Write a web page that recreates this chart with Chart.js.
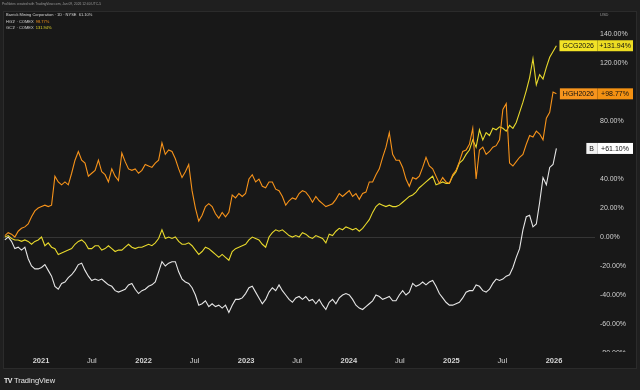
<!DOCTYPE html>
<html><head><meta charset="utf-8">
<script src="https://cdn.jsdelivr.net/npm/chart.js@4"></script>
<style>
html,body{margin:0;padding:0;background:#1f1f1f;width:640px;height:390px;overflow:hidden;font-family:"Liberation Sans",Arial,sans-serif;}
#wrap{position:relative;width:640px;height:390px;}
#pane{position:absolute;left:3px;top:11px;width:634px;height:358px;box-sizing:border-box;background:#181818;border:1px solid #2b2b2b;}
#c{position:absolute;left:0;top:0;}
.t{position:absolute;white-space:nowrap;line-height:1;}
</style></head>
<body><div id="wrap">
<div id="pane"></div>
<canvas id="c" width="640" height="390"></canvas>
<div class="t" style="left:2px;top:2.5px;font-size:3.3px;color:#9a9a9a;">ProNotes created with TradingView.com, Jan 09, 2026 12:40 UTC-5</div>
<div class="t" style="left:6px;top:13px;font-size:4px;color:#d6d6d6;">Barrick Mining Corporation · 1D · NYSE&nbsp;&nbsp;<span>61.10%</span></div>
<div class="t" style="left:6px;top:19.5px;font-size:4px;color:#d6d6d6;">HG1! · COMEX&nbsp;&nbsp;<span style="color:#f7931a">98.77%</span></div>
<div class="t" style="left:6px;top:25.5px;font-size:4px;color:#d6d6d6;">GC1! · COMEX&nbsp;&nbsp;<span style="color:#e8d92c">131.94%</span></div>
<div class="t" style="left:600px;top:12.5px;font-size:4px;color:#9a9a9a;">USD</div>
<div class="t" style="left:4px;top:377px;font-size:7.5px;color:#e6e6e6;"><b style="font-size:7px;letter-spacing:-0.5px">TV</b> TradingView</div>
</div>
<script>
// ---- data (percent change since start) ----
const startDate = Date.UTC(2020, 7, 25);
const stepDays = 11.9;
const barrick = [-2,0,-3,-8,-7,-9,-7,-15,-20,-22,
 -22,-21,-19,-23,-27,-34,-36,-32,-31,-28,
 -26,-23,-19,-18,-23,-27,-30,-29,-30,-29,
 -31,-33,-34,-37,-38,-37,-36,-33,-32,-36,
 -39,-37,-36,-34,-33,-31,-24,-17,-20,-18,
 -17,-17,-24,-29,-31,-32,-35,-40,-47,-46,
 -44,-48,-46,-48,-47,-49,-47,-52,-47,-43,
 -43,-42,-39,-35,-34,-38,-42,-46,-43,-38,
 -35,-37,-33,-37,-40,-43,-45,-42,-41,-43,
 -41,-44,-43,-46,-43,-47,-50,-45,-43,-46,
 -42,-40,-39,-40,-43,-47,-49,-50,-48,-46,
 -44,-40,-41,-43,-42,-41,-44,-44,-40,-37,
 -40,-38,-32,-34,-33,-31,-33,-31,-30,-34,
 -39,-42,-45,-47,-47,-46,-45,-42,-38,-37,
 -37,-33,-34,-37,-38,-36,-32,-29,-30,-29,
 -27,-26,-21,-14,-8,5,14,15,7,9,
 24,41,36,48,50,61.1];
const copper = [1,3,2,0,4,6,7,9,14,18,
 20,21,22,21,22,42,38,36,38,36,
 44,53,59,53,51,42,44,46,53,45,
 43,38,47,42,39,58,52,47,46,47,
 44,46,50,49,48,51,53,65,57,60,
 59,54,47,41,45,50,32,20,11,15,
 21,23,21,16,13,17,14,17,29,27,
 30,28,30,40,43,38,40,35,34,38,
 38,33,32,28,22,25,27,26,30,32,
 31,28,24,28,25,23,21,22,23,26,
 30,28,30,32,28,30,26,30,31,38,
 38,43,47,55,62,72,57,53,53,48,
 40,35,41,40,42,48,55,49,47,42,
 37,41,38,37,43,46,52,59,60,64,
 75,40,60,62,57,59,62,63,67,88,
 92,51,49,52,55,57,64,70,69,73,
 71,67,82,86,100,98.77];
const gold = [0,1,-1,-2,-2,-3,-2,-3,-5,-3,
 -2,0,-6,-4,-7,-8,-12,-11,-10,-9,
 -8,-5,-3,-2,-4,-8,-8,-6,-6,-9,
 -8,-6,-8,-10,-9,-9,-7,-5,-7,-8,
 -7,-7,-6,-5,-6,-4,-1,5,-1,0,
 -1,0,-3,-5,-5,-4,-6,-9,-12,-10,
 -7,-8,-10,-12,-14,-12,-14,-16,-10,-8,
 -7,-6,-5,-2,0,-1,-2,-5,-7,0,
 3,5,4,5,3,1,0,1,0,3,
 2,0,-1,1,0,-1,-4,2,1,4,
 6,5,7,6,5,6,4,6,9,12,
 17,21,23,22,21,22,21,21,22,24,
 26,28,29,31,34,36,38,40,42,36,
 37,38,37,37,42,45,51,53,57,60,
 67,62,74,67,72,70,75,74,76,75,
 73,77,75,79,86,93,101,110,123,105,
 112,109,117,124,128,131.94];
const xTickDates = ['2021-01-01','2021-07-01','2022-01-01','2022-07-01','2023-01-01','2023-07-01','2024-01-01','2024-07-01','2025-01-01','2025-07-01','2026-01-01'];
const xTickLabels = ['2021','Jul','2022','Jul','2023','Jul','2024','Jul','2025','Jul','2026'];
const yTickValues = [-80,-60,-40,-20,0,20,40,60,80,100,120,140];
const yHidden = [60,100];
const seriesTags = ['B','HGH2026','GCG2026'];
const seriesLast = ['+61.10%','+98.77%','+131.94%'];

// ---- helpers ----
const dayMs = 86400000;
function toYear(ms){const d=new Date(ms);const y=d.getUTCFullYear();const s=Date.UTC(y,0,1),e=Date.UTC(y+1,0,1);return y+(ms-s)/(e-s);}
const dates = barrick.map((_,i)=>toYear(startDate+i*stepDays*dayMs));
const xTicks = xTickDates.map(s=>toYear(Date.parse(s+'T00:00:00Z')));
const pts = arr => arr.map((v,i)=>({x:dates[i],y:v}));

Chart.defaults.font.family='"Liberation Sans", Arial, sans-serif';

const boxes = [
  {tagBg:'#f2f2f2', valBg:'#ffffff', fg:'#111'},
  {tagBg:'#f7941d', valBg:'#f39112', fg:'#111'},
  {tagBg:'#f3e326', valBg:'#ecdc22', fg:'#111'}
];

const plugin = {
  id:'tvExtras',
  beforeDatasetsDraw(chart){
    const ctx=chart.ctx, a=chart.chartArea;
    ctx.save(); ctx.fillStyle='#181818';
    ctx.fillRect(a.right+1, a.bottom, 640-a.right-5, 16);
    ctx.restore();
  },
  afterDraw(chart){
    const ctx=chart.ctx, ys=chart.scales.y;
    ctx.save();
    ctx.font='7px "Liberation Sans", Arial, sans-serif';
    ctx.textBaseline='middle';
    const split = chart.chartArea.right+2;
    const valW = 36;
    chart.data.datasets.forEach((ds,k)=>{
      const last = ds.data[ds.data.length-1].y;
      const yc = ys.getPixelForValue(last);
      const b = boxes[k];
      const tw = ctx.measureText(seriesTags[k]).width + 6;
      ctx.fillStyle=b.tagBg; ctx.fillRect(split-tw, yc-5.5, tw, 11);
      ctx.fillStyle=b.valBg; ctx.fillRect(split, yc-5.5, valW, 11);
      ctx.fillStyle='rgba(0,0,0,0.25)'; ctx.fillRect(split, yc-5.5, 0.8, 11);
      ctx.fillStyle=b.fg;
      ctx.textAlign='center';
      ctx.fillText(seriesTags[k], split-tw/2, yc+0.5);
      ctx.fillText(seriesLast[k], split+valW/2, yc+0.5);
    });
    ctx.restore();
  }
};

new Chart(document.getElementById('c'), {
  type:'line',
  data:{datasets:[
    {label:'Barrick Mining Corporation', data:pts(barrick), borderColor:'#e6e6e6', borderWidth:1.1, pointRadius:0, tension:0},
    {label:'HG1!', data:pts(copper), borderColor:'#f7931a', borderWidth:1.1, pointRadius:0, tension:0},
    {label:'GC1!', data:pts(gold), borderColor:'#e8d92c', borderWidth:1.1, pointRadius:0, tension:0}
  ]},
  options:{
    responsive:false, animation:false, devicePixelRatio:1,
    layout:{padding:{left:3,top:11,right:0,bottom:21}},
    plugins:{legend:{display:false}, tooltip:{enabled:false}},
    scales:{
      x:{type:'linear', min:2020.6296, max:2026.3996, position:'bottom',
        grid:{display:false, drawTicks:false}, border:{display:false},
        afterBuildTicks(s){ s.ticks = xTicks.map(v=>({value:v})); },
        afterFit(s){ s.height = 17; },
        ticks:{autoSkip:false, maxRotation:0, padding:4, color:'#d4d4d4',
          font:(c)=>({size:7.5, weight:(c.index%2===0)?'bold':'normal'}),
          callback:(v,i)=>xTickLabels[i]}
      },
      y:{type:'linear', position:'right', min:-79.3, max:155.9,
        border:{display:false},
        grid:{drawTicks:false, color:(c)=> (c.tick && c.tick.value===0) ? '#353535' : 'rgba(0,0,0,0)', lineWidth:1},
        afterBuildTicks(s){ s.ticks = yTickValues.map(v=>({value:v})); },
        afterFit(s){ s.width = 45; },
        ticks:{autoSkip:false, padding:5, color:'#d0d0d0', font:{size:7},
          callback:(v)=> yHidden.includes(v) ? '' : v.toFixed(2)+'%'}
      }
    }
  },
  plugins:[plugin]
});
</script>
</body></html>
